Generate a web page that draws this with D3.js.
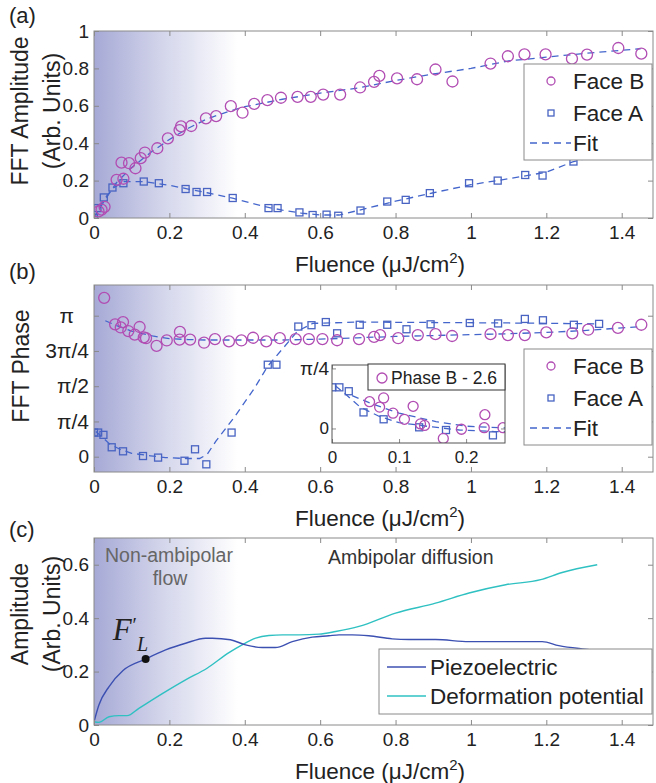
<!DOCTYPE html>
<html>
<head>
<meta charset="utf-8">
<script src="https://cdn.jsdelivr.net/npm/d3@7"></script>
<style>
  body { margin: 0; background: #fff; }
  svg text { font-family: "Liberation Sans", Arial, sans-serif; fill: #222; }
</style>
</head>
<body>
<div id="chart"></div>
<script>
// ---- panel (a): FFT amplitude ----
const fluenceB_a = [0.012, 0.020, 0.028, 0.06, 0.073, 0.078, 0.093, 0.11, 0.124, 0.135, 0.168, 0.196, 0.227, 0.231, 0.258, 0.297, 0.324, 0.363, 0.394, 0.425, 0.46, 0.496, 0.54, 0.575, 0.608, 0.653, 0.706, 0.743, 0.757, 0.804, 0.857, 0.906, 0.951, 1.052, 1.098, 1.142, 1.198, 1.268, 1.308, 1.391, 1.452];
const ampB = [0.035, 0.045, 0.06, 0.204, 0.296, 0.21, 0.293, 0.266, 0.32, 0.35, 0.373, 0.426, 0.47, 0.49, 0.492, 0.533, 0.545, 0.598, 0.563, 0.61, 0.63, 0.643, 0.648, 0.648, 0.66, 0.66, 0.698, 0.728, 0.76, 0.747, 0.742, 0.794, 0.73, 0.826, 0.865, 0.875, 0.875, 0.852, 0.874, 0.909, 0.879];
const fluenceA_a = [0, 0.009, 0.026, 0.049, 0.078, 0.132, 0.172, 0.243, 0.272, 0.3, 0.368, 0.463, 0.487, 0.545, 0.58, 0.617, 0.648, 0.707, 0.778, 0.827, 0.891, 0.995, 1.071, 1.144, 1.19, 1.272];
const ampA = [0, 0.053, 0.11, 0.163, 0.186, 0.195, 0.186, 0.155, 0.139, 0.139, 0.107, 0.053, 0.053, 0.03, 0.016, 0.018, 0.012, 0.04, 0.088, 0.097, 0.133, 0.186, 0.2, 0.23, 0.227, 0.302];
const fitXA_a = [0, 0.02, 0.05, 0.08, 0.13, 0.2, 0.25, 0.3, 0.37, 0.45, 0.5, 0.55, 0.6, 0.65, 0.7, 0.8, 0.9, 1.0, 1.1, 1.2, 1.27, 1.33];
const fitA_a = [0, 0.08, 0.16, 0.195, 0.195, 0.175, 0.155, 0.135, 0.105, 0.062, 0.042, 0.026, 0.016, 0.016, 0.04, 0.09, 0.135, 0.178, 0.21, 0.245, 0.3, 0.33];
const fitXB_a = [0, 0.03, 0.06, 0.1, 0.15, 0.2, 0.25, 0.3, 0.35, 0.4, 0.5, 0.6, 0.7, 0.8, 0.9, 1.0, 1.1, 1.2, 1.3, 1.45];
const fitB_a = [0, 0.1, 0.19, 0.27, 0.35, 0.42, 0.48, 0.53, 0.565, 0.595, 0.635, 0.668, 0.695, 0.735, 0.77, 0.8, 0.84, 0.86, 0.88, 0.905];

// ---- panel (b): FFT phase (rad) ----
const fluenceB_b = [0.027, 0.056, 0.071, 0.077, 0.091, 0.108, 0.121, 0.132, 0.138, 0.166, 0.193, 0.227, 0.228, 0.255, 0.292, 0.321, 0.358, 0.391, 0.422, 0.457, 0.493, 0.535, 0.57, 0.606, 0.645, 0.703, 0.743, 0.759, 0.807, 0.859, 0.906, 0.95, 1.052, 1.098, 1.143, 1.2, 1.269, 1.311, 1.39, 1.452];
const phaseB = [3.54, 2.95, 2.88, 3.0, 2.80, 2.72, 2.89, 2.66, 2.64, 2.47, 2.59, 2.61, 2.78, 2.61, 2.54, 2.62, 2.57, 2.59, 2.65, 2.57, 2.64, 2.62, 2.62, 2.62, 2.595, 2.62, 2.67, 2.71, 2.64, 2.71, 2.73, 2.69, 2.73, 2.71, 2.71, 2.77, 2.75, 2.83, 2.87, 2.94];
const fluenceA_b = [0, 0.011, 0.025, 0.047, 0.077, 0.13, 0.17, 0.24, 0.268, 0.298, 0.365, 0.461, 0.484, 0.542, 0.577, 0.615, 0.645, 0.705, 0.778, 0.829, 0.893, 0.997, 1.072, 1.143, 1.191, 1.273, 1.34];
const phaseA = [0.538, 0.538, 0.487, 0.21, 0.12, 0.015, -0.02, -0.09, 0.165, -0.17, 0.538, 2.05, 2.05, 2.90, 2.93, 3.0, 2.75, 2.94, 2.94, 2.84, 2.95, 2.98, 2.97, 3.07, 3.04, 2.94, 2.96];
const fitXA_b = [0.005, 0.02, 0.042, 0.07, 0.1, 0.15, 0.19, 0.243, 0.28, 0.3, 0.323, 0.374, 0.426, 0.461, 0.505, 0.54, 0.58, 0.7, 0.9, 1.1, 1.34];
const fitA_b = [0.56, 0.45, 0.28, 0.16, 0.076, 0.02, -0.02, -0.04, -0.04, 0.05, 0.34, 0.9, 1.53, 2.02, 2.45, 2.8, 2.97, 3.0, 2.99, 2.98, 2.96];
const fitXB_b = [0.03, 0.06, 0.1, 0.155, 0.2, 0.25, 0.3, 0.4, 0.5, 0.6, 0.7, 0.8, 0.9, 1.0, 1.1, 1.2, 1.3, 1.45];
const fitB_b = [3.03, 2.92, 2.8, 2.69, 2.63, 2.61, 2.6, 2.6, 2.6, 2.62, 2.65, 2.68, 2.7, 2.72, 2.74, 2.77, 2.81, 2.9];
const phaseOffset = 2.6;

// ---- panel (c): model amplitudes ----
const piezoX = [0, 0.013, 0.04, 0.077, 0.137, 0.19, 0.243, 0.296, 0.314, 0.362, 0.402, 0.446, 0.481, 0.526, 0.579, 0.623, 0.65, 0.685, 0.729, 0.791, 0.836, 0.906, 0.995, 1.083, 1.189, 1.233, 1.295, 1.33];
const piezo = [0.012, 0.075, 0.144, 0.204, 0.247, 0.281, 0.306, 0.325, 0.325, 0.319, 0.30, 0.29, 0.29, 0.312, 0.329, 0.334, 0.3375, 0.3375, 0.334, 0.3225, 0.32, 0.32, 0.312, 0.312, 0.312, 0.297, 0.285, 0.28];
const deformX = [0, 0.013, 0.04, 0.066, 0.088, 0.119, 0.19, 0.243, 0.3, 0.358, 0.393, 0.429, 0.464, 0.5, 0.544, 0.597, 0.641, 0.703, 0.8, 0.906, 0.995, 1.092, 1.185, 1.242, 1.335];
const deform = [0.012, 0.01, 0.031, 0.035, 0.035, 0.0625, 0.125, 0.169, 0.2125, 0.271, 0.30, 0.325, 0.335, 0.3375, 0.3375, 0.34, 0.35, 0.369, 0.419, 0.456, 0.494, 0.525, 0.544, 0.571, 0.60];
const markF = [0.137, 0.247];

const xTicks = [0, 0.2, 0.4, 0.6, 0.8, 1, 1.2, 1.4];

const colB = '#b14db3', colA = '#4863c2', colFit = '#4466cc';
const colPiezo = '#3c50b2', colDeform = '#2fc0c2';
const boxCol = '#8a8a8a';

const width = 656, height = 783;
const left = 94, right = 653;

const svg = d3.select('#chart').append('svg')
    .attr('width', width)
    .attr('height', height);

const x = d3.scaleLinear().domain([0, 1.483]).range([left, right]);

// shading of the low fluence region
const grad = svg.append('defs').append('linearGradient')
    .attr('id', 'shade')
    .attr('gradientUnits', 'userSpaceOnUse')
    .attr('x1', x(0)).attr('x2', x(0.38))
    .attr('y1', 0).attr('y2', 0);
grad.append('stop').attr('offset', 0).attr('stop-color', '#a6a9d5');
grad.append('stop').attr('offset', 0.45).attr('stop-color', '#d1d3ea');
grad.append('stop').attr('offset', 1).attr('stop-color', '#ffffff');

const zip = (xs, ys) => xs.map((d, i) => [d, ys[i]]);

function panel(name, top, bottom, yDomain) {
    const y = d3.scaleLinear().domain(yDomain).range([bottom, top]);
    const g = svg.append('g');
    g.append('rect')
        .attr('x', left).attr('y', top)
        .attr('width', right - left).attr('height', bottom - top)
        .attr('fill', 'url(#shade)');
    svg.select('defs').append('clipPath').attr('id', 'clip-' + name)
        .append('rect')
        .attr('x', left).attr('y', top)
        .attr('width', right - left).attr('height', bottom - top);
    const plot = g.append('g').attr('clip-path', `url(#clip-${name})`);
    return { g, plot, y, top, bottom };
}

function axes(p, xs, yTicks, yFormat, opts) {
    const o = Object.assign({ x0: left, x1: right, tick: 5, font: 19, pad: 5 }, opts || {});
    const g = p.g.append('g');
    const bottom = g.append('g')
        .attr('transform', `translate(0,${p.bottom})`)
        .call(d3.axisBottom(xs).tickValues(o.xTicks || xTicks).tickSize(-o.tick).tickPadding(8).tickFormat(d => String(d)));
    g.append('g')
        .attr('transform', `translate(0,${p.top})`)
        .call(d3.axisTop(xs).tickValues(o.xTicks || xTicks).tickSize(-o.tick).tickFormat(''));
    const leftAx = g.append('g')
        .attr('transform', `translate(${o.x0},0)`)
        .call(d3.axisLeft(p.y).tickValues(yTicks).tickSize(-o.tick).tickPadding(o.pad).tickFormat(yFormat));
    g.append('g')
        .attr('transform', `translate(${o.x1},0)`)
        .call(d3.axisRight(p.y).tickValues(yTicks).tickSize(-o.tick).tickFormat(''));
    g.selectAll('.domain').remove();
    g.selectAll('line').attr('stroke', boxCol);
    g.selectAll('g').attr('font-family', null).attr('font-size', null);
    g.selectAll('text').attr('font-size', o.font).attr('fill', '#222');
    g.append('rect')
        .attr('x', o.x0).attr('y', p.top)
        .attr('width', o.x1 - o.x0).attr('height', p.bottom - p.top)
        .attr('fill', 'none').attr('stroke', o.frame || boxCol);
    return { bottom, leftAx };
}

function circles(sel, xs, y, data, r) {
    sel.selectAll(null).data(data).enter().append('circle')
        .attr('cx', d => xs(d[0])).attr('cy', d => y(d[1]))
        .attr('r', r).attr('fill', 'none')
        .attr('stroke', colB).attr('stroke-width', 1.3);
}

function squares(sel, xs, y, data, s) {
    sel.selectAll(null).data(data).enter().append('rect')
        .attr('x', d => xs(d[0]) - s / 2).attr('y', d => y(d[1]) - s / 2)
        .attr('width', s).attr('height', s).attr('fill', 'none')
        .attr('stroke', colA).attr('stroke-width', 1.3);
}

function fit(sel, xs, y, data) {
    sel.append('path')
        .datum(data)
        .attr('fill', 'none')
        .attr('stroke', colFit)
        .attr('stroke-width', 1.3)
        .attr('stroke-dasharray', '7,5')
        .attr('d', d3.line().x(d => xs(d[0])).y(d => y(d[1])));
}

function fluenceLabel(p) {
    const t = svg.append('text')
        .attr('x', 380).attr('y', p.bottom + 54)
        .attr('text-anchor', 'middle')
        .attr('font-size', 22.5);
    t.append('tspan').text('Fluence (μJ/cm');
    t.append('tspan').attr('font-size', 15).attr('dy', -9).text('2');
    t.append('tspan').attr('dy', 9).text(')');
}

function yLabel(lines, cy) {
    const base = [28, 60];
    lines.forEach((s, i) => {
        svg.append('text')
            .attr('transform', `translate(${lines.length === 1 ? 29 : base[i]},${cy}) rotate(-90)`)
            .attr('text-anchor', 'middle')
            .attr('font-size', 23)
            .text(s);
    });
}

function panelTag(s, yb) {
    svg.append('text').attr('x', 9).attr('y', yb).attr('font-size', 22).text(s);
}

function legend(x0, y0, w, h) {
    const g = svg.append('g');
    g.append('rect').attr('x', x0).attr('y', y0).attr('width', w).attr('height', h)
        .attr('fill', '#fff').attr('stroke', boxCol);
    return g;
}

function faceLegend(y0) {
    const g = legend(524, y0, 128, 96);
    const rows = [y0 + 17, y0 + 49, y0 + 79];
    g.append('circle').attr('cx', 551).attr('cy', rows[0]).attr('r', 4)
        .attr('fill', 'none').attr('stroke', colB).attr('stroke-width', 1.3);
    g.append('rect').attr('x', 548).attr('y', rows[1] - 3).attr('width', 6).attr('height', 6)
        .attr('fill', 'none').attr('stroke', colA).attr('stroke-width', 1.3);
    g.append('line').attr('x1', 530).attr('x2', 571).attr('y1', rows[2]).attr('y2', rows[2])
        .attr('stroke', colFit).attr('stroke-width', 1.3).attr('stroke-dasharray', '7,5');
    ['Face B', 'Face A', 'Fit'].forEach((s, i) => {
        g.append('text').attr('x', 573).attr('y', rows[i] + 8).attr('font-size', 22.5).text(s);
    });
}

// ================= (a) =================
const pa = panel('a', 31, 218, [0, 1]);
fit(pa.plot, x, pa.y, zip(fitXA_a, fitA_a));
fit(pa.plot, x, pa.y, zip(fitXB_a, fitB_a));
squares(pa.plot, x, pa.y, zip(fluenceA_a, ampA), 7);
circles(pa.plot, x, pa.y, zip(fluenceB_a, ampB), 5.5);
axes(pa, x, [0, 0.2, 0.4, 0.6, 0.8, 1], d => String(d));
fluenceLabel(pa);
yLabel(['FFT Amplitude', '(Arb. Units)'], 111);
panelTag('(a)', 23);
faceLegend(64);

// ================= (b) =================
const pb = panel('b', 285, 472, [-0.341, 3.826]);
fit(pb.plot, x, pb.y, zip(fitXA_b, fitA_b));
fit(pb.plot, x, pb.y, zip(fitXB_b, fitB_b));
squares(pb.plot, x, pb.y, zip(fluenceA_b, phaseA), 7);
circles(pb.plot, x, pb.y, zip(fluenceB_b, phaseB), 5.5);
const piLabels = ['0', 'π/4', 'π/2', '3π/4', 'π'];
const axb = axes(pb, x, [0, Math.PI / 4, Math.PI / 2, 3 * Math.PI / 4, Math.PI], (d, i) => piLabels[i]);
axb.leftAx.selectAll('.tick text')
    .attr('font-family', (d, i) => i === 0 ? null : '"Liberation Serif", "Times New Roman", serif')
    .attr('font-size', (d, i) => i === 0 ? 19 : 21)
    .attr('dx', (d, i) => i === 4 ? -15 : 0);
fluenceLabel(pb);
yLabel(['FFT Phase'], 366);
panelTag('(b)', 279);

// inset: early fluence, phase B shifted down
const xi = d3.scaleLinear().domain([0, 0.258]).range([332, 505]);
const pi = { g: svg.append('g'), top: 365, bottom: 443 };
pi.y = d3.scaleLinear().domain([-0.19, 0.83]).range([443, 365]);
pi.g.append('rect').attr('x', 332).attr('y', 365).attr('width', 173).attr('height', 78).attr('fill', '#fff');
svg.select('defs').append('clipPath').attr('id', 'clip-inset')
    .append('rect').attr('x', 332).attr('y', 365).attr('width', 173).attr('height', 78);
pi.plot = pi.g.append('g').attr('clip-path', 'url(#clip-inset)');
fit(pi.plot, xi, pi.y, zip(fitXA_b, fitA_b));
fit(pi.plot, xi, pi.y, zip(fitXB_b, fitB_b.map(v => v - phaseOffset)));
squares(pi.plot, xi, pi.y, zip(fluenceA_b, phaseA), 7);
circles(pi.plot, xi, pi.y, zip(fluenceB_b, phaseB.map(v => v - phaseOffset)), 5);
const axi = axes(pi, xi, [0, Math.PI / 4], (d, i) => ['0', 'π/4'][i],
    { x0: 332, x1: 505, tick: 4, font: 17, pad: 3, xTicks: [0, 0.1, 0.2], frame: '#555' });
axi.leftAx.selectAll('.tick text')
    .attr('font-family', (d, i) => i === 0 ? null : '"Liberation Serif", "Times New Roman", serif')
    .attr('font-size', (d, i) => i === 0 ? 17 : 19);
const lg = svg.append('g');
lg.append('rect').attr('x', 368).attr('y', 364).attr('width', 137).attr('height', 26)
    .attr('fill', '#fff').attr('stroke', '#333');
lg.append('circle').attr('cx', 382).attr('cy', 378).attr('r', 5)
    .attr('fill', 'none').attr('stroke', colB).attr('stroke-width', 1.3);
lg.append('text').attr('x', 391).attr('y', 384).attr('font-size', 17.5).text('Phase B - 2.6');

faceLegend(349);

// ================= (c) =================
const pc = panel('c', 538, 725, [0, 0.7]);
const curve = d3.line().x(d => x(d[0])).y(d => pc.y(d[1])).curve(d3.curveMonotoneX);
pc.plot.append('path').datum(zip(deformX, deform))
    .attr('fill', 'none').attr('stroke', colDeform).attr('stroke-width', 1.4).attr('d', curve);
pc.plot.append('path').datum(zip(piezoX, piezo))
    .attr('fill', 'none').attr('stroke', colPiezo).attr('stroke-width', 1.4).attr('d', curve);
pc.plot.append('circle').attr('cx', x(markF[0])).attr('cy', pc.y(markF[1])).attr('r', 4).attr('fill', '#111');
axes(pc, x, [0, 0.2, 0.4, 0.6], d => String(d));
fluenceLabel(pc);
yLabel(['Amplitude', '(Arb. Units)'], 614);
panelTag('(c)', 537);

// region notes
svg.append('text').attr('x', left + 11).attr('y', 562).attr('font-size', 19.5).style('fill', '#666').text('Non-ambipolar');
svg.append('text').attr('x', 170).attr('y', 585).attr('font-size', 19.5).attr('text-anchor', 'middle').style('fill', '#666').text('flow');
svg.append('text').attr('x', 328).attr('y', 564).attr('font-size', 19.5).style('fill', '#333').text('Ambipolar diffusion');

// F'_L next to the marked point (one text, tspans for prime and subscript)
const fx = x(markF[0]), fy = pc.y(markF[1]);
const fl = svg.append('text')
    .attr('x', fx - 33).attr('y', fy - 19)
    .style('font-family', '"Liberation Serif", "Times New Roman", serif')
    .attr('font-size', 31);
fl.append('tspan').style('font-style', 'italic').text('F');
fl.append('tspan').attr('font-size', 20).attr('dx', 1).attr('dy', -8).text('′');
fl.append('tspan').attr('font-size', 20).attr('dx', 0).attr('dy', 19).style('font-style', 'italic').text('L');

// legend (c)
const lc = legend(379, 649, 273, 65);
[[colPiezo, 'Piezoelectric', 667], [colDeform, 'Deformation potential', 696]].forEach(r => {
    lc.append('line').attr('x1', 387).attr('x2', 426).attr('y1', r[2]).attr('y2', r[2])
        .attr('stroke', r[0]).attr('stroke-width', 1.4);
    lc.append('text').attr('x', 430).attr('y', r[2] + 8).attr('font-size', 22.5).text(r[1]);
});
</script>
</body>
</html>
